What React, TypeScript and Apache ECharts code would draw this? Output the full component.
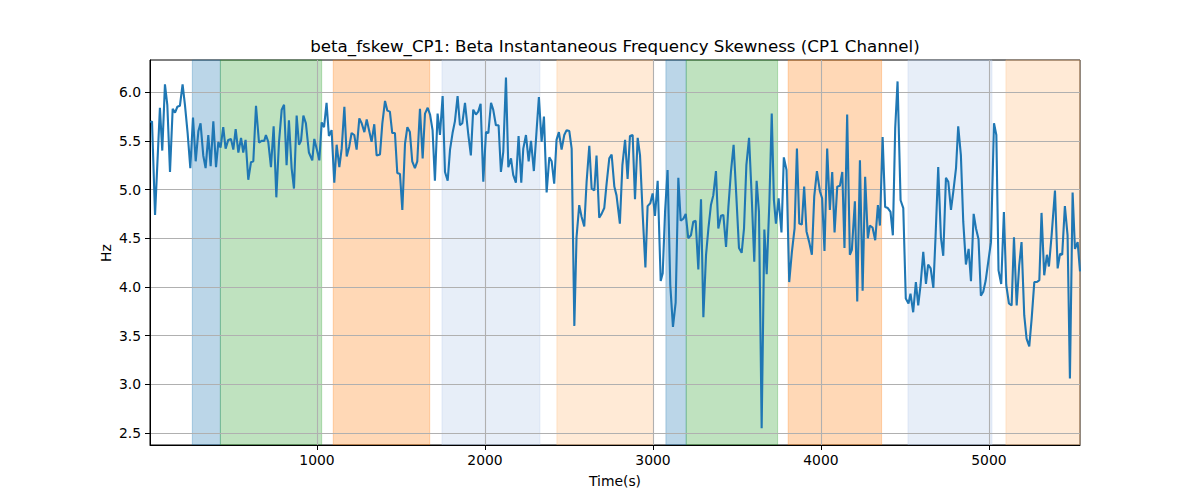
import { useEffect, useRef } from 'react'
import * as echarts from 'echarts'

// time (s) of each sample and the skewness value (Hz)
const times = [
  8, 18, 36, 65, 79, 95, 109, 125, 141, 155,
  169, 184, 200, 214, 230, 246, 262, 278, 294, 307,
  323, 337, 353, 367, 383, 399, 413, 426, 442, 456,
  472, 488, 502, 516, 532, 548, 561, 575, 591, 607,
  621, 637, 655, 670, 686, 696, 710, 726, 742, 758,
  774, 790, 804, 819, 833, 849, 863, 879, 893, 905,
  919, 934, 952, 972, 984, 998, 1014, 1028, 1042, 1057,
  1071, 1087, 1103, 1117, 1133, 1147, 1163, 1177, 1192, 1206,
  1222, 1236, 1252, 1266, 1282, 1296, 1311, 1325, 1341, 1355,
  1375, 1389, 1405, 1419, 1434, 1448, 1464, 1478, 1494, 1508,
  1524, 1538, 1553, 1567, 1583, 1597, 1613, 1629, 1643, 1659,
  1673, 1688, 1702, 1718, 1732, 1748, 1762, 1778, 1792, 1807,
  1821, 1837, 1851, 1865, 1881, 1901, 1916, 1930, 1946, 1960,
  1974, 1990, 2006, 2020, 2036, 2049, 2065, 2081, 2095, 2109,
  2125, 2139, 2155, 2168, 2184, 2200, 2216, 2228, 2244, 2260,
  2274, 2291, 2307, 2321, 2337, 2351, 2367, 2383, 2397, 2412,
  2426, 2440, 2456, 2472, 2486, 2502, 2516, 2532, 2545, 2561,
  2575, 2591, 2605, 2621, 2635, 2651, 2664, 2680, 2694, 2710,
  2724, 2740, 2754, 2770, 2783, 2803, 2818, 2834, 2849, 2863,
  2879, 2893, 2909, 2923, 2939, 2955, 2968, 2984, 2998, 3012,
  3028, 3046, 3058, 3072, 3087, 3103, 3119, 3135, 3151, 3165,
  3181, 3195, 3210, 3226, 3240, 3254, 3270, 3286, 3300, 3316,
  3330, 3345, 3359, 3375, 3389, 3405, 3419, 3435, 3449, 3464,
  3480, 3496, 3512, 3528, 3542, 3556, 3572, 3587, 3603, 3617,
  3631, 3647, 3663, 3677, 3693, 3707, 3720, 3732, 3748, 3765,
  3779, 3795, 3811, 3827, 3843, 3857, 3871, 3886, 3900, 3914,
  3930, 3946, 3960, 3976, 3994, 4007, 4021, 4037, 4053, 4067,
  4081, 4097, 4113, 4127, 4140, 4156, 4172, 4184, 4202, 4216,
  4232, 4248, 4263, 4279, 4291, 4307, 4323, 4339, 4351, 4367,
  4382, 4398, 4414, 4428, 4442, 4456, 4474, 4490, 4505, 4521,
  4533, 4549, 4565, 4579, 4593, 4609, 4625, 4638, 4653, 4669,
  4682, 4698, 4714, 4728, 4744, 4758, 4774, 4788, 4804, 4817,
  4833, 4847, 4863, 4879, 4893, 4909, 4923, 4938, 4952, 4966,
  4980, 4996, 5012, 5030, 5044, 5057, 5073, 5089, 5103, 5119,
  5135, 5149, 5165, 5180, 5194, 5210, 5224, 5240, 5254, 5270,
  5286, 5300, 5313, 5329, 5345, 5357, 5373, 5393, 5409, 5423,
  5436, 5452, 5468, 5482, 5498, 5512, 5528, 5542,
]

const skewness = [
  5.69, 5.70, 4.74, 5.84, 5.40, 6.08, 5.87, 5.18, 5.83, 5.79,
  5.85, 5.86, 6.08, 5.87, 5.58, 5.22, 5.74, 5.29, 5.60, 5.68,
  5.35, 5.22, 5.56, 5.24, 5.70, 5.23, 5.49, 5.43, 5.64, 5.42,
  5.51, 5.52, 5.41, 5.62, 5.38, 5.53, 5.38, 5.51, 5.10, 5.28,
  5.29, 5.86, 5.48, 5.50, 5.50, 5.56, 5.49, 5.23, 5.65, 4.92,
  5.49, 5.82, 5.87, 5.25, 5.71, 5.22, 5.01, 5.76, 5.46, 5.50,
  5.76, 5.68, 5.38, 5.30, 5.52, 5.42, 5.30, 5.69, 5.64, 5.89,
  5.55, 5.61, 5.07, 5.46, 5.23, 5.42, 5.85, 5.34, 5.44, 5.58,
  5.56, 5.41, 5.73, 5.68, 5.59, 5.72, 5.60, 5.49, 5.67, 5.35,
  5.36, 5.68, 5.91, 5.81, 5.80, 5.58, 5.58, 5.17, 5.16, 4.79,
  5.47, 5.64, 5.59, 5.29, 5.22, 5.29, 5.83, 5.32, 5.78, 5.84,
  5.77, 5.61, 5.09, 5.78, 5.56, 5.96, 5.18, 5.09, 5.41, 5.58,
  5.70, 5.96, 5.66, 5.68, 5.89, 5.56, 5.35, 5.82, 5.77, 5.80,
  5.88, 5.08, 5.59, 5.58, 5.89, 5.82, 5.66, 5.66, 5.18, 5.39,
  6.15, 5.23, 5.32, 5.15, 5.07, 5.55, 5.07, 5.42, 5.56, 5.29,
  5.50, 5.19, 5.60, 5.95, 5.49, 5.75, 4.97, 5.33, 5.29, 5.06,
  5.51, 5.59, 5.41, 5.56, 5.61, 5.60, 5.42, 3.60, 4.51, 4.84,
  4.72, 4.62, 5.08, 5.45, 5.01, 4.99, 5.35, 4.71, 4.75, 4.81,
  5.06, 5.32, 5.36, 5.03, 4.94, 4.65, 5.25, 5.51, 5.11, 5.55,
  5.56, 4.90, 5.53, 5.35, 4.74, 4.20, 4.83, 4.86, 4.96, 4.73,
  5.09, 4.06, 4.14, 4.77, 5.20, 4.02, 3.59, 3.84, 5.12, 4.68,
  4.70, 4.75, 4.50, 4.53, 4.67, 4.68, 4.18, 4.90, 3.69, 4.33,
  4.60, 4.84, 4.94, 5.19, 4.60, 4.73, 4.74, 4.41, 4.82, 5.18,
  5.46, 4.94, 4.40, 4.35, 4.60, 5.25, 5.53, 4.96, 4.26, 5.09,
  4.77, 2.55, 4.59, 4.13, 4.87, 5.78, 4.89, 4.65, 4.91, 4.56,
  5.33, 5.20, 4.05, 4.36, 4.60, 5.42, 4.65, 4.64, 5.03, 4.57,
  4.46, 4.33, 4.93, 5.19, 4.98, 4.91, 4.37, 5.42, 4.79, 5.18,
  4.56, 5.03, 5.04, 5.18, 4.40, 5.77, 4.33, 4.38, 4.88, 3.85,
  5.30, 3.96, 5.13, 4.50, 4.63, 4.61, 4.48, 4.84, 4.63, 5.54,
  4.82, 4.81, 4.77, 4.53, 5.63, 6.11, 4.89, 4.81, 3.88, 3.83,
  3.93, 3.74, 4.05, 3.81, 4.02, 4.36, 4.03, 4.23, 4.19, 3.99,
  4.51, 5.23, 4.51, 4.32, 5.12, 5.08, 4.79, 4.98, 5.22, 5.65,
  5.35, 4.67, 4.23, 4.39, 4.06, 4.75, 4.60, 4.49, 3.91, 3.95,
  4.06, 4.26, 4.46, 5.68, 5.56, 4.17, 4.03, 4.77, 4.02, 3.83,
  3.81, 4.51, 3.81, 4.22, 4.46, 3.71, 3.47, 3.39, 3.67, 4.05,
  4.05, 4.07, 4.76, 4.12, 4.33, 4.21, 4.53, 4.99, 4.19, 4.34,
  4.33, 4.83, 4.53, 3.06, 4.97, 4.39, 4.46, 4.16,
]

// shaded intervals: start, end, colour
const bandStarts = [258, 425, 1097, 1744, 2428, 3077, 3198, 3805, 4518, 5101]
const bandEnds = [425, 1028, 1671, 2327, 3003, 3198, 3742, 4361, 5018, 5542]
const bandColors = [
  'rgba(31,119,180,0.3)',
  'rgba(44,160,44,0.3)',
  'rgba(255,127,14,0.3)',
  'rgba(174,199,232,0.3)',
  'rgba(255,187,120,0.3)',
  'rgba(31,119,180,0.3)',
  'rgba(44,160,44,0.3)',
  'rgba(255,127,14,0.3)',
  'rgba(174,199,232,0.3)',
  'rgba(255,187,120,0.3)',
]

const xTicks = [1000, 2000, 3000, 4000, 5000]
const yTicks = [2.5, 3.0, 3.5, 4.0, 4.5, 5.0, 5.5, 6.0]

const FONT = 'DejaVu Sans'

export default function App() {
  const ref = useRef<HTMLDivElement>(null)

  useEffect(() => {
    if (!ref.current) return
    const chart = echarts.init(ref.current, null, { renderer: 'svg' })

    const lineData = times.map((t, i) => [t, skewness[i]])
    const bands = bandStarts.map((s, i) => [
      {
        xAxis: s,
        itemStyle: { color: bandColors[i], borderColor: bandColors[i], borderWidth: 1 },
      },
      { xAxis: bandEnds[i] },
    ])

    const option: echarts.EChartsOption = {
      animation: false,
      backgroundColor: '#fff',
      grid: {
        left: 150,
        right: 120,
        top: 60,
        bottom: 55,
        show: true,
        borderColor: '#000',
        borderWidth: 1,
        backgroundColor: 'transparent',
      },
      xAxis: {
        type: 'value',
        min: 6,
        max: 5542,
        z: 2,
        axisLine: { show: true, lineStyle: { color: '#000', width: 1 } },
        axisTick: { show: true, length: 5, lineStyle: { color: '#000' }, customValues: xTicks },
        axisLabel: {
          color: '#000',
          fontFamily: FONT,
          fontSize: 13.9,
          margin: 8,
          customValues: xTicks,
          formatter: (v: number) => String(v),
        },
        splitLine: { show: true, lineStyle: { color: '#b0b0b0', width: 1.1 } },
      },
      yAxis: {
        type: 'value',
        min: 2.377,
        max: 6.33,
        z: 2,
        axisLine: { show: true, lineStyle: { color: '#000', width: 1 } },
        axisTick: { show: true, length: 5, lineStyle: { color: '#000' }, customValues: yTicks },
        axisLabel: {
          color: '#000',
          fontFamily: FONT,
          fontSize: 13.9,
          margin: 9,
          customValues: yTicks,
          formatter: (v: number) => v.toFixed(1),
        },
        splitLine: { show: true, lineStyle: { color: '#b0b0b0', width: 1.1 } },
      },
      graphic: [
        {
          type: 'text',
          x: 615,
          y: 46,
          style: {
            text: 'beta_fskew_CP1: Beta Instantaneous Frequency Skewness (CP1 Channel)',
            fontFamily: FONT,
            fontSize: 16.67,
            fill: '#000',
            align: 'center',
            verticalAlign: 'middle',
          },
        },
        {
          type: 'text',
          x: 615,
          y: 481,
          style: {
            text: 'Time(s)',
            fontFamily: FONT,
            fontSize: 13.9,
            fill: '#000',
            align: 'center',
            verticalAlign: 'middle',
          },
        },
        {
          type: 'text',
          x: 106,
          y: 253,
          rotation: Math.PI / 2,
          style: {
            text: 'Hz',
            fontFamily: FONT,
            fontSize: 13.9,
            fill: '#000',
            align: 'center',
            verticalAlign: 'middle',
          },
        },
      ],
      series: [
        {
          type: 'line',
          data: lineData,
          z: 3,
          showSymbol: false,
          symbol: 'none',
          silent: true,
          lineStyle: { color: '#1f77b4', width: 2.1 },
          markArea: {
            silent: true,
            z: 1,
            data: bands as any,
          },
        },
      ],
    }

    chart.setOption(option)
    return () => chart.dispose()
  }, [])

  return (
    <div
      ref={ref}
      style={{ position: 'fixed', left: 0, top: 0, width: 1200, height: 500 }}
    />
  )
}
